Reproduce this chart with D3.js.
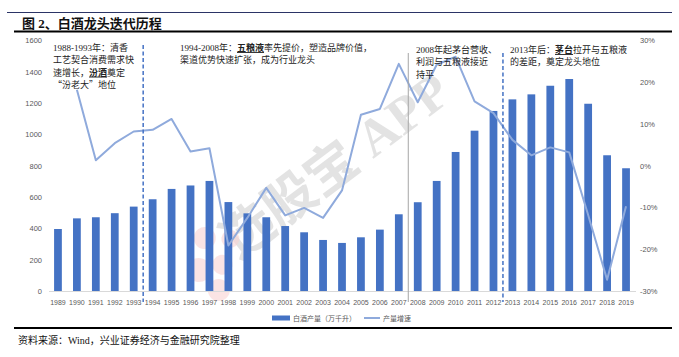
<!DOCTYPE html>
<html><head><meta charset="utf-8">
<script src="https://cdn.jsdelivr.net/npm/d3@7/dist/d3.min.js"></script>
<style>
body{margin:0;background:#fff;}
svg{display:block;}
text{font-family:"Liberation Serif","Noto Sans CJK SC",serif;}
.ax{font-family:"Liberation Sans","Noto Sans CJK SC",sans-serif;font-size:7.5px;fill:#595959;}
</style></head>
<body><svg id="c" width="679" height="357"></svg>
<script>
const years = ["1989","1990","1991","1992","1993","1994","1995","1996","1997","1998","1999","2000","2001","2002","2003","2004","2005","2006","2007","2008","2009","2010","2011","2012","2013","2014","2015","2016","2017","2018","2019"];
const output = [396,464,471,497,539,586,652,674,703,568,496,471,415,375,326,307,343,392,490,567,703,888,1024,1150,1224,1256,1311,1354,1196,867,784];
const growth = [null,18.2,1.3,5.4,8.2,8.6,11.2,3.4,4.2,-19.1,-12.5,-5.3,-11.9,-10.1,-12.5,-5.9,12.2,13.6,24.4,15.2,24.2,26.1,15.4,12.6,6.2,2.5,4.4,3.2,-11.8,-27.3,-9.7];
const leftTicks = [0,200,400,600,800,1000,1200,1400,1600];
const rightTicks = [-30,-20,-10,0,10,20,30];
const seriesNames = ["白酒产量（万千升）","产量增速"];
const title = "图 2、白酒龙头迭代历程";
const source = "资料来源：Wind，兴业证券经济与金融研究院整理";
const dividers = [["1993","1994","dash"],["2007","2008","solid"],["2012","2013","dash"]];
const notes = [
  {at:"1989", lines:[[["1988-1993年：清香"]],[["工艺契合消费需求快"]],[["速增长，"],["汾酒",1],["奠定"]],[["“汾老大”地位",2]]]},
  {at:"1996", lines:[[["1994-2008年："],["五粮液",1],["率先提价，塑造品牌价值，"]],[["渠道优势快速扩张，成为行业龙头"]]]},
  {at:"2008", lines:[[["2008年起茅台营收、"]],[["利润与五粮液接近"]],[["持平"]]]},
  {at:"2013", lines:[[["2013年后："],["茅台",1],["拉开与五粮液"]],[["的差距，奠定龙头地位"]]]}
];

const svg = d3.select("#c");
const x = d3.scaleBand().domain(years).range([48.5,635.5]).paddingInner(0.59).paddingOuter(0.295);
const yL = d3.scaleLinear().domain([0,1600]).range([291,40.5]);
const yR = d3.scaleLinear().domain([-30,30]).range([291,40.5]);
const cx = d => x(d)+x.bandwidth()/2;

// header lines & title
svg.append("line").attr("x1",7).attr("x2",672).attr("y1",12.5).attr("y2",12.5).attr("stroke","#2b3466").attr("stroke-width",1);
svg.append("text").attr("x",22).attr("y",28).attr("font-size",13).attr("font-weight","bold").attr("fill","#111").text(title);
svg.append("line").attr("x1",14).attr("x2",672).attr("y1",31.5).attr("y2",31.5).attr("stroke","#000").attr("stroke-width",1.8);

// watermark
const wm = svg.append("g").attr("transform","translate(335,165) rotate(-37)").attr("opacity",0.5);
wm.append("text").attr("text-anchor","middle").attr("font-size",52).attr("font-weight","bold")
  .attr("font-family","Noto Sans CJK SC").attr("fill","#c8c8c8").attr("dy","0.35em").text("选股宝 APP");
[[-172,2,12],[-148,-20,11],[-150,12,10],[-128,-4,9],[-168,30,11]].forEach(p=>{
  wm.append("circle").attr("cx",p[0]).attr("cy",p[1]).attr("r",p[2]).attr("fill","#f4a6a6").attr("opacity",0.6);
});

// axes
const axL = svg.append("g").attr("transform","translate(42,0)")
  .call(d3.axisLeft(yL).tickValues(leftTicks).tickSize(0).tickPadding(0).tickFormat(d3.format("d")));
axL.select(".domain").remove();
axL.selectAll("text").attr("class","ax").attr("font-size",null).attr("font-family",null).attr("fill",null);
const axR = svg.append("g").attr("transform","translate(640,0)")
  .call(d3.axisRight(yR).tickValues(rightTicks).tickSize(0).tickPadding(0).tickFormat(d=>d+"%"));
axR.select(".domain").remove();
axR.selectAll("text").attr("class","ax").attr("font-size",null).attr("font-family",null).attr("fill",null);
const axB = svg.append("g").attr("transform","translate(0,291)")
  .call(d3.axisBottom(x).tickSize(0).tickPadding(9));
axB.select(".domain").attr("stroke","#d9d9d9").attr("stroke-width",1);
axB.selectAll("text").attr("class","ax").attr("font-size",null).attr("font-family",null).attr("fill",null).style("font-size","7px");

// bars
svg.append("g").selectAll("rect").data(years).join("rect")
  .attr("x",d=>x(d)).attr("width",x.bandwidth())
  .attr("y",(d,i)=>yL(output[i])).attr("height",(d,i)=>yL(0)-yL(output[i]))
  .attr("fill","#4472c4");

// growth line
const pts = years.map((d,i)=>[d,growth[i]]).filter(p=>p[1]!==null);
svg.append("path").datum(pts)
  .attr("d",d3.line().x(p=>cx(p[0])).y(p=>yR(p[1])))
  .attr("fill","none").attr("stroke","#8faadc").attr("stroke-width",2).attr("stroke-linejoin","round");

// dividers
dividers.forEach(dv=>{
  const xx = (cx(dv[0])+cx(dv[1]))/2;
  const l = svg.append("line").attr("x1",xx).attr("x2",xx)
    .attr("y1", dv[0]==="1993"?45:53).attr("y2",302);
  if(dv[2]==="dash") l.attr("stroke","#4472c4").attr("stroke-width",1.5).attr("stroke-dasharray","4,2.5");
  else l.attr("stroke","#a6a6a6").attr("stroke-width",1);
});

// annotations
const noteX = {"1989":53,"1996":180,"2008":416,"2013":510};
const noteY = {"1989":51,"1996":51,"2008":53,"2013":53};
notes.forEach(n=>{
  n.lines.forEach((ln,li)=>{
    const t = svg.append("text").attr("x",noteX[n.at]).attr("y",noteY[n.at]+li*12.3)
      .attr("font-size",9).attr("fill","#222");
    ln.forEach(seg=>{
      const s = t.append("tspan").text(seg[0]);
      if(seg[1]===1) s.attr("font-weight","bold").attr("text-decoration","underline");
      if(seg[1]===2) s.attr("font-family","Noto Sans CJK SC");
    });
  });
});

// legend
const lg = svg.append("g").attr("transform","translate(0,318)");
lg.append("rect").attr("x",272).attr("y",-2.5).attr("width",18).attr("height",5).attr("fill","#4472c4");
const lt = lg.append("text").attr("class","ax").attr("x",293).attr("y",2.5).style("font-size","7px").text(seriesNames[0]);
const lx = 293 + lt.node().getComputedTextLength() + 8;
lg.append("line").attr("x1",lx).attr("x2",lx+16).attr("y1",0).attr("y2",0).attr("stroke","#8faadc").attr("stroke-width",2);
lg.append("text").attr("class","ax").attr("x",lx+19).attr("y",2.5).style("font-size","7px").text(seriesNames[1]);

// footer
svg.append("line").attr("x1",14).attr("x2",672).attr("y1",328).attr("y2",328).attr("stroke","#000").attr("stroke-width",1.8);
svg.append("text").attr("x",18).attr("y",344).attr("font-size",10).attr("fill","#111").text(source);
</script></body></html>
